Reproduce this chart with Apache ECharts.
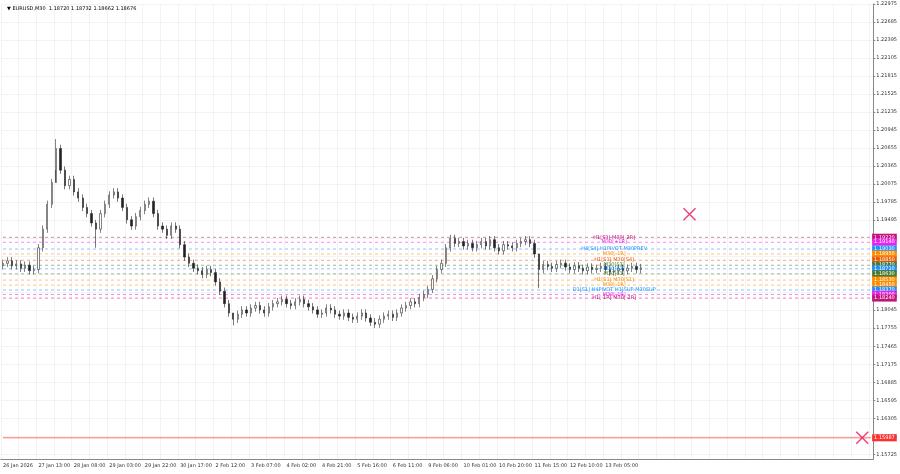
<!DOCTYPE html>
<html>
<head>
<meta charset="utf-8">
<script src="https://cdn.jsdelivr.net/npm/echarts@6/dist/echarts.min.js"></script>
<style>html,body{margin:0;padding:0;background:#fff}#chart{width:900px;height:474px}</style>
</head>
<body>
<div id="chart"></div>
<script>
let closes = [
  1.1880, 1.1884, 1.1876, 1.1879, 1.1872, 1.1877, 1.1868, 1.1870, 1.1905, 1.1935,
  1.1975, 1.2010, 1.2065, 1.2030, 1.2005, 1.2015, 1.1995, 1.1985, 1.1970, 1.1960,
  1.1945, 1.1935, 1.1960, 1.1975, 1.1990, 1.1995, 1.1985, 1.1970, 1.1950, 1.1940,
  1.1955, 1.1965, 1.1975, 1.1980, 1.1960, 1.1940, 1.1935, 1.1925, 1.1940, 1.1935,
  1.1910, 1.1890, 1.1880, 1.1872, 1.1868, 1.1862, 1.1870, 1.1865, 1.1850, 1.1835,
  1.1815, 1.1800, 1.1790, 1.1798, 1.1805, 1.1800, 1.1808, 1.1812, 1.1805, 1.1800,
  1.1810, 1.1815, 1.1818, 1.1822, 1.1815, 1.1812, 1.1818, 1.1822, 1.1815, 1.1810,
  1.1805, 1.1798, 1.1800, 1.1808, 1.1805, 1.1798, 1.1795, 1.1800, 1.1793, 1.1790,
  1.1795, 1.1800, 1.1792, 1.1785, 1.1782, 1.1790, 1.1795, 1.1798, 1.1793, 1.1800,
  1.1808, 1.1812, 1.1818, 1.1815, 1.1825, 1.1830, 1.1838, 1.1855, 1.1870, 1.1880,
  1.1905, 1.1920, 1.1912, 1.1915, 1.1908, 1.1912, 1.1905, 1.1910, 1.1915, 1.1908,
  1.1918, 1.1905, 1.1900, 1.1910, 1.1908, 1.1905, 1.1912, 1.1915, 1.1918, 1.1912,
  1.1895, 1.1870, 1.1878, 1.1875, 1.1872, 1.1878, 1.1880, 1.1874, 1.1870, 1.1876,
  1.1872, 1.1868, 1.1874, 1.1870, 1.1872, 1.1875, 1.1870, 1.1866, 1.1868, 1.1872,
  1.1868, 1.1872, 1.1875, 1.1870, 1.1873
];
// notable wick extremes [index, high, low]
let spikes = [[12, 1.2080, 1.2030], [21, 1.1950, 1.1905], [121, 1.1895, 1.1840], [52, 1.1800, 1.1780], [84, 1.1792, 1.1776]];

let dateLabels = ['26 Jan 2026', '27 Jan 13:00', '28 Jan 08:00', '29 Jan 03:00', '29 Jan 22:00', '30 Jan 17:00',
  '2 Feb 12:00', '3 Feb 07:00', '4 Feb 02:00', '4 Feb 21:00', '5 Feb 16:00', '6 Feb 11:00', '9 Feb 06:00',
  '10 Feb 01:00', '10 Feb 20:00', '11 Feb 15:00', '12 Feb 10:00', '13 Feb 05:00'];
let totalSlots = 197;

let priceTicks = [1.22975, 1.22685, 1.22395, 1.22105, 1.21815, 1.21525, 1.21235, 1.20945, 1.20655,
  1.20365, 1.20075, 1.19785, 1.19495, 1.19205, 1.18915, 1.18625, 1.18335, 1.18045, 1.17755, 1.17465,
  1.17175, 1.16885, 1.16595, 1.16305, 1.16015, 1.15725];

let levelPrices = [1.1922, 1.1914, 1.1903, 1.1895, 1.1885, 1.1877, 1.1871, 1.1863, 1.1853, 1.1845, 1.1837, 1.1830, 1.1824];
let levelColors = ['#c0157a', '#ee22ee', '#1e90ff', '#ff8c00', '#e8590c', '#4e7a2a', '#1e90ff', '#4e7a2a', '#ff8c00', '#ff8c00', '#1e90ff', '#ee22ee', '#c0157a'];
let levelTexts = ['H1[S3] M30[-2R]', 'M30[+1R]', 'H4[S4] H1PIVOT M30PREV', 'M30[-1R]', 'H1[S1] M30[S4]', 'M30[S3]', 'M30[S2]',
  'M30[S1]', 'H1[S1] M30[S1]', 'M30[-1R]', 'D1[S1] H4PIVOT H1[SUP M30SUP', 'M30[-1R]', 'H1[-1R] M30[-2R]'];
let redLevel = 1.1599;
let crosses = [[155, 1.1959], [194, 1.1599]];

let categories = [];
for (let i = 0; i < totalSlots; i++) {
  categories.push(i % 8 === 0 && dateLabels[i / 8] ? dateLabels[i / 8] : 'c' + i);
}

let candles = closes.map(function (c, i) {
  let o = i === 0 ? 1.1876 : closes[i - 1];
  let h = Math.max(o, c) + 0.0006, l = Math.min(o, c) - 0.0006;
  spikes.forEach(function (s) { if (s[0] === i) { h = s[1]; l = s[2]; } });
  return [o, c, l, h];
});

function levelSeries(p, color, tag, text, dashed) {
  return {
    type: 'line', silent: true, symbol: 'none', z: 2,
    data: [[categories[0], p], [categories[totalSlots - 1], p]],
    lineStyle: { color: color, type: dashed ? [3, 3] : 'solid', width: 0.7, opacity: dashed ? 0.75 : 1 },
    endLabel: {
      show: true, formatter: tag, color: '#fff', backgroundColor: color,
      fontSize: 5, padding: [1, 2], distance: 1
    },
    markPoint: text ? {
      silent: true, symbol: 'circle', symbolSize: 1, itemStyle: { color: 'transparent' },
      label: { show: true, formatter: text, color: color, fontSize: 5, position: 'inside' },
      data: [{ coord: [categories[138], p] }]
    } : undefined
  };
}

let levelSeriesList = levelPrices.map(function (p, i) {
  return levelSeries(p, levelColors[i], p.toFixed(5), levelTexts[i], true);
});
levelSeriesList.push(levelSeries(redLevel, '#ff3030', '1.15987', null, false));

let option = {
  animation: false,
  backgroundColor: '#fff',
  textStyle: { fontFamily: 'DejaVu Sans' },
  title: { text: '▼ EURUSD,M30  1.18720 1.18732 1.18662 1.18676', left: 2, top: 1,
    textStyle: { fontSize: 5, fontWeight: 'normal', color: '#000' } },
  grid: { left: 0, right: 21, top: 4, bottom: 15 },
  xAxis: {
    type: 'category', data: categories, boundaryGap: true,
    axisLine: { lineStyle: { color: '#888' } },
    axisTick: { show: false },
    axisLabel: { interval: 0, fontSize: 5, color: '#333', align: 'left', margin: 4,
      formatter: function (v) { return v.charAt(0) === 'c' ? '' : v; } },
    splitLine: { show: true, interval: 3, lineStyle: { color: '#eeeeee', width: 0.7 } }
  },
  yAxis: {
    type: 'value', position: 'right', min: 1.15649, max: 1.22975,
    axisLine: { show: true, lineStyle: { color: '#888' } },
    axisTick: { show: true, customValues: priceTicks, length: 2 },
    axisLabel: { customValues: priceTicks, fontSize: 5, color: '#333', margin: 3,
      formatter: function (v) { return v.toFixed(5); } },
    splitLine: { show: true, lineStyle: { color: '#eeeeee', width: 0.7 } }
  },
  series: [
    {
      type: 'candlestick', data: candles, barWidth: 1.8, z: 3,
      itemStyle: { color: '#ffffff', color0: '#222', borderColor: '#333', borderColor0: '#222', borderWidth: 0.6 }
    },
    {
      type: 'scatter', symbol: 'path://M0,0L10,10M10,0L0,10', symbolSize: 12,
      itemStyle: { color: 'none', borderColor: '#e8175d', borderWidth: 1.5 },
      data: crosses.map(function (c) { return ['c' + c[0], c[1]]; })
    }
  ].concat(levelSeriesList)
};
echarts.init(document.getElementById('chart')).setOption(option);
</script>
</body>
</html>
